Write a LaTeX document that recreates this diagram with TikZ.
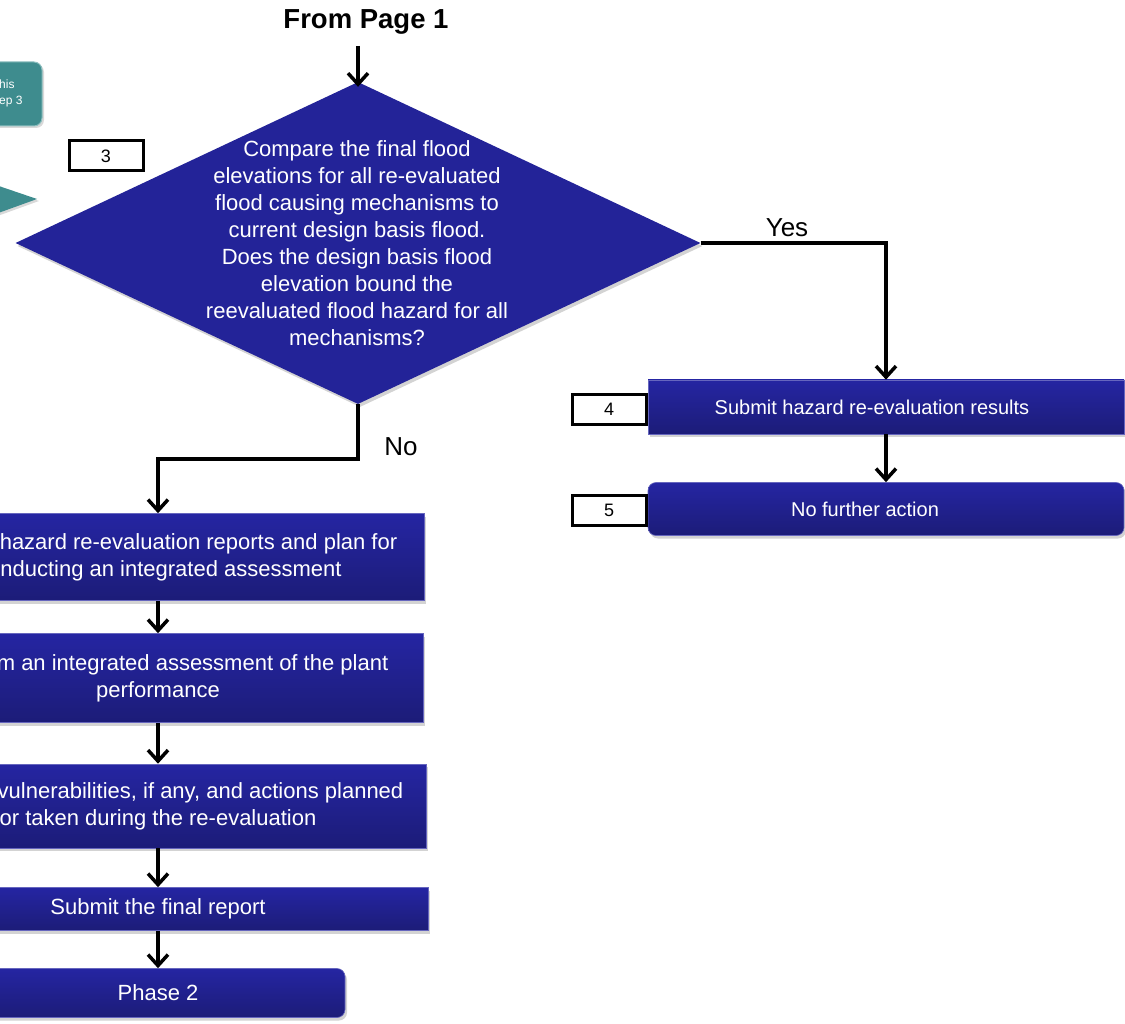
\documentclass[tikz,border=0pt]{standalone}
\usepackage{fontspec}
\setmainfont{Liberation Sans}
\usetikzlibrary{shapes.geometric,arrows.meta,shadows}

\definecolor{boxtop}{RGB}{37,37,162}
\definecolor{boxbot}{RGB}{28,28,120}
\definecolor{diamondblue}{RGB}{35,35,152}
\definecolor{teal}{RGB}{62,140,142}
\definecolor{tealedge}{RGB}{140,190,190}

\begin{document}
\begin{tikzpicture}[x=1pt, y=-1pt,
  stepbox/.style={draw=boxtop!70!white, line width=0.6pt, top color=boxtop, bottom color=boxbot, text=white, align=center, inner sep=0pt, font=\fontsize{22}{27}\selectfont, drop shadow={shadow xshift=2pt, shadow yshift=-3pt, opacity=0.35}},
  numbox/.style={draw, line width=3pt, fill=white, minimum width=74pt, minimum height=30pt, inner sep=0pt, font=\fontsize{18}{20}\selectfont},
  flow/.style={line width=3.5pt, -{Straight Barb[length=11pt,width=20pt]}},
  answer/.style={font=\fontsize{26}{30}\selectfont}]
\useasboundingbox (0,0) rectangle (1125,1024);
\clip (0,0) rectangle (1125,1024);

% note at the top left, cut by the page edge
\node[fill=teal, draw=tealedge, line width=1pt, rounded corners=8pt, minimum width=102pt, minimum height=64pt, drop shadow={shadow xshift=2pt, shadow yshift=-2pt, opacity=0.3}] (note) at (-9, 94) {};
\node[anchor=west, align=left, text=white, inner sep=0pt, font=\fontsize{12}{16}\selectfont] (notetext) at (-1, 93) {his\\ep 3};
\fill[teal, drop shadow={shadow xshift=2pt, shadow yshift=-2pt, opacity=0.3}] (-10, 183) -- (37, 199) -- (-10, 216) -- cycle;

\node[font=\fontsize{27.5}{30}\selectfont\bfseries] (frompage) at (366, 22) {From Page 1};

\node[diamond, fill=diamondblue, minimum width=685pt, minimum height=322pt, inner sep=0pt, drop shadow={shadow xshift=2pt, shadow yshift=-3pt, opacity=0.35}] (check) at (358, 243) {};
\node[text=white, align=center, font=\fontsize{22}{27}\selectfont] (checktext) at (357, 243) {Compare the final flood\\elevations for all re-evaluated\\flood causing mechanisms to\\current design basis flood.\\Does the design basis flood\\elevation bound the\\reevaluated flood hazard for all\\mechanisms?};
\node[numbox] (n3) at (106, 156) {3};

\node[stepbox, minimum width=476pt, minimum height=54pt, font=\fontsize{20}{24}\selectfont] (results) at (886, 407) {Submit hazard re-evaluation results\hspace*{28pt}};
\node[stepbox, rounded corners=8pt, minimum width=476pt, minimum height=53pt, font=\fontsize{20}{24}\selectfont] (noaction) at (886, 509) {No further action\hspace*{42pt}};
\node[numbox] (n4) at (609, 409) {4};
\node[numbox] (n5) at (609, 510) {5};

\node[stepbox, minimum width=532pt, minimum height=87pt] (reports) at (158, 557) {\hspace*{81pt}hazard re-evaluation reports and plan for\\\hspace*{26pt}nducting an integrated assessment};
\node[stepbox, minimum width=530pt, minimum height=89pt] (assess) at (158, 678) {\hspace*{69pt}m an integrated assessment of the plant\\performance};
\node[stepbox, minimum width=536pt, minimum height=84pt] (vulner) at (158, 806) {\hspace*{85pt}vulnerabilities, if any, and actions planned\\or taken during the re-evaluation};
\node[stepbox, minimum width=540pt, minimum height=43pt] (final) at (158, 909) {Submit the final report};
\node[stepbox, rounded corners=8pt, minimum width=374pt, minimum height=49pt] (phase) at (158, 993) {Phase 2};

\node[answer] (yes) at (787, 228) {Yes};
\node[answer] (no) at (401, 447) {No};

\draw[flow] (frompage.south -| check.north) ++(0,8) -- ([yshift=-5pt]check.north);
\draw[flow] (check.east) -| (results.north);
\draw[flow] (results) -- (noaction);
\draw[flow] (check.south) -- ++(0, 55) -| (reports.north);
\draw[flow] (reports) -- (assess);
\draw[flow] (assess) -- (vulner);
\draw[flow] (vulner) -- (final);
\draw[flow] (final) -- (phase);
\end{tikzpicture}
\end{document}
